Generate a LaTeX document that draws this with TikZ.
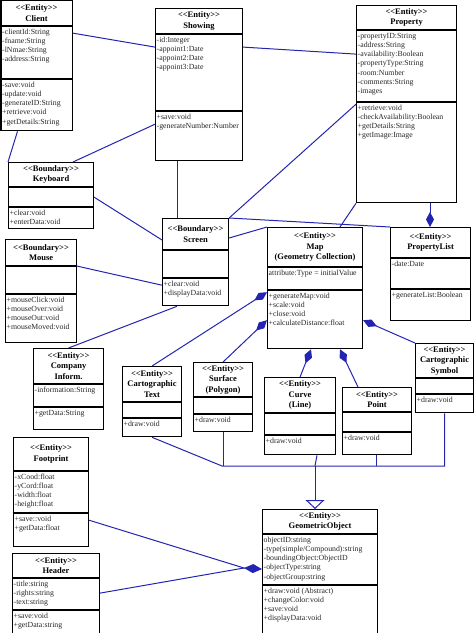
\documentclass[tikz,border=0pt]{standalone}
\usepackage{fontspec}
\setmainfont{Liberation Serif}
\usetikzlibrary{arrows.meta}

% one class: name, (x,y), width, header/attribute/method heights, title, attributes, methods
\newcommand{\umlclass}[9]{%
  \node[head, minimum width=#3pt, minimum height=#4pt] (#1) at #2 {#7};
  \node[part, minimum width=#3pt, minimum height=#5pt] (#1-a) at (#1.south west) {};
  \node[members] (#1-at) at (#1-a.north west) {\strut #8};
  \node[part, minimum width=#3pt, minimum height=#6pt] (#1-m) at (#1-a.south west) {};
  \node[members] (#1-mt) at (#1-m.north west) {\strut #9};
}
% stereotype without the guillemet ligature
\newcommand{\stereo}[1]{<{}<#1>{}>}

\definecolor{linkblue}{RGB}{36,36,178}

\begin{document}
\begin{tikzpicture}[
  x=1pt, y=-1pt,
  head/.style={draw, line width=1.1pt, anchor=north west, align=center, inner sep=1pt,
    font=\bfseries\fontsize{8.5}{10.5}\selectfont},
  part/.style={draw, line width=1.1pt, anchor=north west, inner sep=0pt},
  members/.style={anchor=north west, align=left, inner xsep=1.5pt, inner ysep=1.5pt,
    text=black!85, font=\fontsize{7.8}{9.2}\selectfont},
  conn/.style={draw=linkblue, line width=1pt},
  comp/.style={conn, -{Diamond[length=15pt, width=8pt]}},
  gen/.style={conn, -{Triangle[open, length=9pt, width=19pt]}},
]
\useasboundingbox (0,0) rectangle (474,633);

% Top row
\umlclass{client}{(0.5,0)}{71}{25}{52}{51}{\stereo{Entity}\\Client}
  {-clientId:String\\-fname:String\\-lNmae:String\\-address:String}
  {-save:void\\-update:void\\-generateID:String\\+retrieve:void\\+getDetails:String}
\umlclass{showing}{(155,8)}{87}{25}{76}{49}{\stereo{Entity}\\Showing}
  {-id:Integer\\-appoint1:Date\\-appoint2:Date\\-appoint3:Date}
  {+save:void\\-generateNumber:Number}
\umlclass{property}{(356,5)}{100}{24}{71}{100}{\stereo{Entity}\\Property}
  {-propertyID:String\\-address:String\\-availability:Boolean\\-propertyType:String\\-room:Number\\-comments:String\\-images}
  {+retrieve:void\\-checkAvailability:Boolean\\+getDetails:String\\+getImage:Image}

% Boundaries
\umlclass{keyboard}{(8,162)}{85}{24}{19}{21}{\stereo{Boundary}\\Keyboard}
  {}{+clear:void\\+enterData:void}
\umlclass{screen}{(162,218)}{66}{31}{27}{27}{\stereo{Boundary}\\Screen}
  {}{+clear:void\\+displayData:void}
\umlclass{mouse}{(5,239)}{71}{26}{27}{48}{\stereo{Boundary}\\Mouse}
  {}{+mouseClick:void\\+mouseOver:void\\+mouseOut:void\\+mouseMoved:void}

% Map and list
\umlclass{map}{(267,227)}{95}{39}{22}{58}{\stereo{Entity}\\Map\\(Geometry Collection)}
  {attribute:Type = initialValue}
  {+generateMap:void\\+scale:void\\+close:void\\+calculateDistance:float}
\umlclass{proplist}{(390,227)}{80}{30}{30}{31}{\stereo{Entity}\\PropertyList}
  {-date:Date}{+generateList:Boolean}
\umlclass{company}{(33,348)}{70}{35}{22}{22}{\stereo{Entity}\\Company\\Inform.}
  {-information:String}{+getData:String}

% Map parts
\umlclass{carttext}{(122,366)}{59}{35}{15}{18}{\stereo{Entity}\\Cartographic\\Text}
  {}{+draw:void}
\umlclass{surface}{(193,362)}{59}{34}{16}{17}{\stereo{Entity}\\Surface\\(Polygon)}
  {}{+draw:void}
\umlclass{curve}{(264,377)}{71}{35}{21}{19}{\stereo{Entity}\\Curve\\(Line)}
  {}{+draw:void}
\umlclass{point}{(342,387)}{69}{24}{19}{22}{\stereo{Entity}\\Point}
  {}{+draw:void}
\umlclass{cartsym}{(415,343)}{58}{34}{15}{18}{\stereo{Entity}\\Cartographic\\Symbol}
  {}{+draw:void}

% Bottom
\umlclass{footprint}{(13,437)}{75}{33}{41}{33}{\stereo{Entity}\\Footprint}
  {-xCood:float\\-yCord:float\\-width:float\\-height:float}
  {+save::void\\+getData:float}
\umlclass{header}{(12,553)}{87}{24}{31}{24}{\stereo{Entity}\\Header}
  {-title:string\\-rights:string\\-text:string}
  {+save:void\\+getData:string}
\umlclass{geomobj}{(262,509)}{115}{24}{50}{56}{\stereo{Entity}\\GeometricObject}
  {objectID:string\\-type(simple/Compound):string\\-boundingObject:ObjectID\\-objectType:string\\-objectGroup:string}
  {+draw:void (Abstract)\\+changeColor:void\\+save:void\\+displayData:void}

% Associations
\draw[conn] ([yshift=-7pt]client-a.north east) -- ([yshift=-13pt]showing-a.north west);
\draw[conn] ([yshift=-13pt]showing-a.north east) -- ([yshift=-24pt]property-a.north west);
\draw[conn] ([xshift=17pt]client-m.south west) -- (keyboard.north west);
\draw[conn] ([yshift=-13pt]showing-m.north west) -- ([xshift=65pt]keyboard.north west);
\draw[conn] ([xshift=22pt]showing-m.south west) -- ([xshift=15pt]screen.north west);
\draw[conn] ([yshift=-2pt]property-m.north west) -- (screen.north east);
\draw[conn] (screen.north east) -- (proplist.north west);
\draw[comp] ([xshift=74pt]property-m.south west) -- ([xshift=40pt]proplist.north west);
\draw[conn] (property-m.south west) -- ([xshift=73pt]map.north west);
\draw[conn] ([yshift=-20pt]screen.north east) -- (map.north west);
\draw[conn] (keyboard-a.east) -- ([yshift=-22pt]screen.north west);
\draw[conn] (mouse.south east) -- ([yshift=-7pt]screen-m.north west);
\draw[conn] ([xshift=15pt]screen-m.south west) -- (company.north);

% Map parts
\draw[comp] (carttext.north) -- ([yshift=-2pt]map-m.north west);
\draw[comp] (surface.north) -- ([yshift=-30pt]map-m.north west);
\draw[comp] (curve.north) -- ([xshift=44pt]map-m.south west);
\draw[comp] ([xshift=16pt]point.north west) -- ([xshift=73pt]map-m.south west);
\draw[comp] (cartsym.north west) -- ([yshift=-30pt]map-m.north east);

% Generalization
\coordinate (jl) at (222,466);
\coordinate (jc) at (315,466);
\draw[conn] (carttext-m.south) -- (jl) -| (cartsym-m.south);
\draw[conn] (surface-m.south) -- (surface-m.south |- jl);
\draw[conn] ([xshift=53pt]curve-m.south west) -- (jc);
\draw[conn] ([xshift=34pt]point-m.south west) coordinate (pb) -- (pb |- jl);
\draw[gen] (jc) -- ([xshift=53pt]geomobj.north west);

% Aggregation
\coordinate (agg) at (244,568);
\draw[conn] ([yshift=-7pt]footprint-m.north east) -- (agg);
\draw[conn] ([yshift=-15pt]header-a.north east) -- (agg);
\draw[conn, -{Diamond[length=18pt, width=9pt]}] (agg) -- ([yshift=-35pt]geomobj-a.north west);

\end{tikzpicture}
\end{document}
